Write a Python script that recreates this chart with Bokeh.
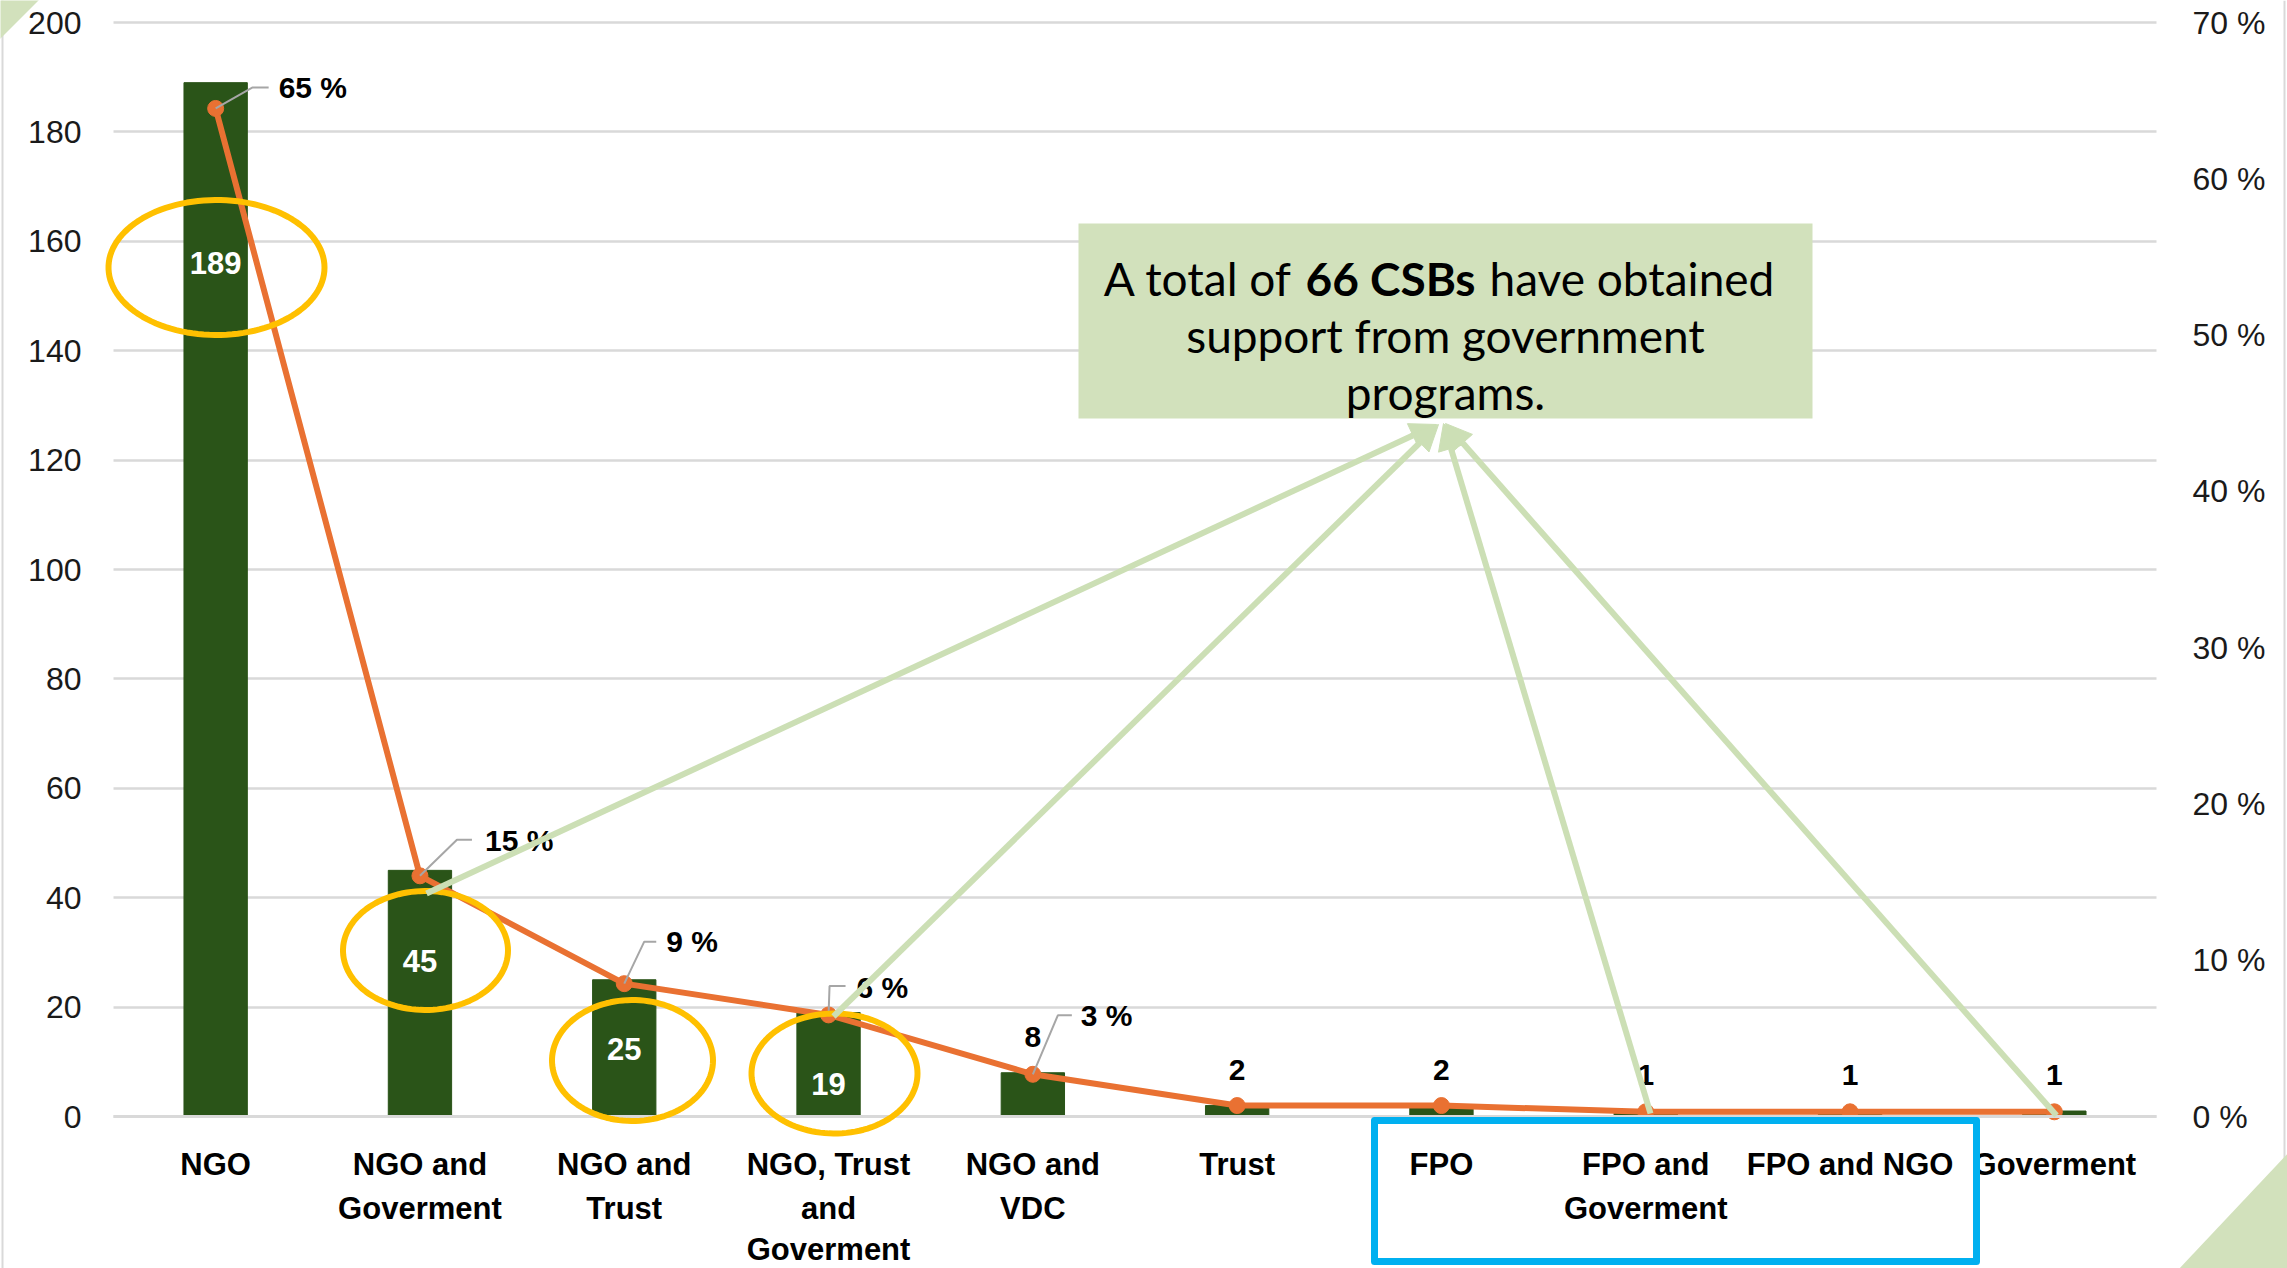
import numpy as np
from bokeh.plotting import figure
from bokeh.models import (Range1d, LinearAxis, FixedTicker, ColumnDataSource, Span,
                          Arrow, NormalHead, PolyAnnotation, BoxAnnotation, Label,
                          PrintfTickFormatter, CustomJSTickFormatter)
from bokeh.core.properties import value
from bokeh.embed import file_html
from bokeh.resources import INLINE

# ---------------- data ----------------
categories = ["NGO", "NGO and Goverment", "NGO and Trust", "NGO, Trust and Goverment",
              "NGO and VDC", "Trust", "FPO", "FPO and Goverment", "FPO and NGO", "Goverment"]
tick_labels = ["NGO", "NGO and\nGoverment", "NGO and\nTrust", "NGO, Trust\nand\nGoverment",
               "NGO and\nVDC", "Trust", "FPO", "FPO and\nGoverment", "FPO and NGO", "Goverment"]
counts = [189, 45, 25, 19, 8, 2, 2, 1, 1, 1]
share_pct = [64.5, 15.4, 8.5, 6.5, 2.7, 0.7, 0.7, 0.3, 0.3, 0.3]
share_labels = ["65 %", "15 %", "9 %", "6 %", "3 %"]
count_ticks = [0, 20, 40, 60, 80, 100, 120, 140, 160, 180, 200]
pct_ticks = [0, 10, 20, 30, 40, 50, 60, 70]
note_bold = "66 CSBs"

# ---------------- geometry (page pixels) ----------------
W, H = 2287, 1268
FL, FR, FT, FB = 113, 2156, 22, 1116     # plot area of the chart
NCAT = len(categories)
PX_CAT = (FR - FL) / NCAT
PX_CNT = (FB - FT) / 200.0
PX_PCT = (FB - FT) / 70.0


def dx(px):
    return (px - FL) / PX_CAT


def dy(py):
    return (FB - py) / PX_CNT


xpos = [i + 0.5 for i in range(NCAT)]
label_lines = [t.split("\n") for t in tick_labels]
line1 = [l[0] for l in label_lines]
line2 = [l[1] if len(l) > 1 else "" for l in label_lines]
line3 = [l[2] if len(l) > 2 else "" for l in label_lines]

FONT = "Liberation Sans"
BAR = "#2A5418"
ORANGE = "#E97132"
GRID = "#D9D9D9"
LGREEN = "#D2E1BC"
ARROW = "#CCDFB5"
YELLOW = "#FFC000"
BLUE = "#00B0F0"

p = figure(x_range=Range1d(dx(0), dx(W)), y_range=Range1d(dy(H), dy(0)),
           frame_width=W, frame_height=H, min_border=0,
           output_backend="svg", toolbar_location=None,
           background_fill_color="white", border_fill_color="white",
           outline_line_color=None)
p.extra_y_ranges = {"pct": Range1d(dy(H) * 0.35, dy(0) * 0.35)}

# ---- left axis ----
yt = FixedTicker(ticks=count_ticks)
ya = p.yaxis[0]
ya.ticker = yt
ya.fixed_location = 0
ya.bounds = (0, 200)
ya.axis_line_color = None
ya.major_tick_line_color = None
ya.minor_tick_line_color = None
ya.major_tick_out = 0
ya.major_label_text_font = FONT
ya.major_label_text_font_size = "32px"
ya.major_label_text_color = "#1a1a1a"
ya.major_label_standoff = 32

p.ygrid[0].ticker = yt
p.ygrid[0].grid_line_color = GRID
p.ygrid[0].grid_line_width = 2.5
if "cross_bounds" in p.ygrid[0].properties():
    p.ygrid[0].cross_bounds = (0, NCAT)
p.xgrid.grid_line_color = None

# ---- right axis ----
rax = LinearAxis(y_range_name="pct", ticker=FixedTicker(ticks=pct_ticks),
                 formatter=PrintfTickFormatter(format="%d %%"), fixed_location=NCAT,
                 bounds=(0, 70))
rax.axis_line_color = None
rax.major_tick_line_color = None
rax.minor_tick_line_color = None
rax.major_tick_out = 0
rax.major_label_text_font = FONT
rax.major_label_text_font_size = "32px"
rax.major_label_text_color = "#1a1a1a"
rax.major_label_standoff = 36
p.add_layout(rax, "right")

# ---- category axis (three stacked label rows) ----
def style_cat_axis(ax, labels, standoff, show_line):
    ax.ticker = FixedTicker(ticks=xpos)
    ax.formatter = CustomJSTickFormatter(args=dict(labels=labels),
                                         code="const i = Math.round(tick - 0.5); return labels[i] || '';")
    ax.fixed_location = 0
    ax.bounds = (0, NCAT)
    ax.axis_line_color = GRID if show_line else None
    ax.axis_line_width = 3
    ax.major_tick_line_color = None
    ax.minor_tick_line_color = None
    ax.major_tick_out = 0
    ax.major_tick_in = 0
    ax.major_label_text_font = FONT
    ax.major_label_text_font_style = "bold"
    ax.major_label_text_font_size = "31px"
    ax.major_label_text_color = "#000000"
    ax.major_label_standoff = standoff


style_cat_axis(p.xaxis[0], line1, 30, True)
ax2 = LinearAxis()
style_cat_axis(ax2, line2, 74, False)
p.add_layout(ax2, "below")
ax3 = LinearAxis()
style_cat_axis(ax3, line3, 115, False)
p.add_layout(ax3, "below")

# page edge lines
p.add_layout(Span(location=dx(2), dimension="height", line_color=GRID, line_width=2))
p.add_layout(Span(location=dx(2284), dimension="height", line_color=GRID, line_width=2))

# ---- bars and line ----
src = ColumnDataSource(dict(x=xpos, cat=categories, count=counts, pct=share_pct))
p.vbar(x="x", top="count", width=0.31, source=src, fill_color=BAR, line_color=BAR)
p.line(x="x", y="pct", y_range_name="pct", source=src, line_color=ORANGE, line_width=6)
p.scatter(x="x", y="pct", y_range_name="pct", source=src, size=16,
          fill_color=ORANGE, line_color=ORANGE)

# leader lines for percentage labels
corner_off = [(37, -21), (37, -36), (20, -42), (1, -29), (25, -59)]
end_off = [(53, -21), (52, -36), (32, -42), (17, -29), (39, -59)]
label_off = [(63, -21), (65, -35), (42, -42), (28, -27), (48, -59)]
lx, ly = [], []
for i, lab in enumerate(share_labels):
    x0, y0 = xpos[i], share_pct[i]
    (cx, cy), (ex, ey) = corner_off[i], end_off[i]
    lx.append([x0, x0 + cx / PX_CAT, x0 + ex / PX_CAT])
    ly.append([y0, y0 - cy / PX_PCT, y0 - ey / PX_PCT])
p.multi_line(xs=lx, ys=ly, y_range_name="pct", line_color="#A6A6A6", line_width=2)

n = len(share_labels)
pct_src = ColumnDataSource(dict(x=xpos[:n], pct=share_pct[:n], text=share_labels,
                                xo=[o[0] for o in label_off], yo=[o[1] for o in label_off]))
p.text(x="x", y="pct", text="text", y_range_name="pct", source=pct_src,
       x_offset="xo", y_offset="yo", text_align="left", text_baseline="middle",
       text_font=value(FONT), text_font_style="bold", text_font_size="30px", text_color="#000000")

# white counts inside the first four bars
inner_y = [dy(262), dy(960), dy(1048), dy(1083)]
in_src = ColumnDataSource(dict(x=xpos[:4], y=inner_y, text=[str(c) for c in counts[:4]]))
p.text(x="x", y="y", text="text", source=in_src, text_align="center", text_baseline="middle",
       text_font=value(FONT), text_font_style="bold", text_font_size="31px", text_color="white")

# counts above the small bars
top_src = ColumnDataSource(dict(x=xpos[4:], count=counts[4:], text=[str(c) for c in counts[4:]]))
p.text(x="x", y="count", text="text", source=top_src, y_offset=-36,
       text_align="center", text_baseline="middle",
       text_font=value(FONT), text_font_style="bold", text_font_size="30px", text_color="#000000")

# ---- yellow ellipses ----
t = np.linspace(0, 2 * np.pi, 120)
ellipses = [(216, 267, 216, 135), (425, 950, 165, 119), (632, 1060, 161, 121), (834, 1073, 166, 120)]
for cxp, cyp, wp, hp in ellipses:
    xs = list(dx(cxp) + (wp / 2 / PX_CAT) * np.cos(t))
    ys = list(dy(cyp) + (hp / 2 / PX_CNT) * np.sin(t))
    p.add_layout(PolyAnnotation(xs=xs, ys=ys, fill_alpha=0, line_color=YELLOW,
                                line_alpha=1, line_width=6))

# ---- blue box around the FPO categories ----
bx = [dx(1374), dx(1976), dx(1976), dx(1374)]
by = [dy(1120), dy(1120), dy(1261), dy(1261)]
p.add_layout(PolyAnnotation(xs=bx, ys=by, fill_alpha=0, line_color=BLUE, line_alpha=1,
                            line_width=7, line_join="round"))

# ---- call-out box ----
p.add_layout(BoxAnnotation(left=dx(1078), right=dx(1812), top=dy(223), bottom=dy(418),
                           fill_color=LGREEN, fill_alpha=1, line_color=None))

starts = [(426, 893), (833, 1016), (1650, 1113), (2056, 1115)]
ends = [(1436, 424), (1438, 424), (1443, 423), (1445, 423)]
for (sx, sy), (ex, ey) in zip(starts, ends):
    p.add_layout(Arrow(x_start=dx(sx), y_start=dy(sy), x_end=dx(ex), y_end=dy(ey),
                       line_color=ARROW, line_width=6,
                       end=NormalHead(size=26, fill_color=ARROW, line_color=ARROW)))

NOTE_FONT = "Lato"
NOTE_SIZE = "46px"
note_parts = [
    (1292, 278, "A total of", "right", "normal"),
    (1390, 278, note_bold, "center", "bold"),
    (1489, 278, "have obtained", "left", "normal"),
    (1445, 335, "support from government", "center", "normal"),
    (1445, 392, "programs.", "center", "normal"),
]
for px, py, txt, align, style in note_parts:
    p.add_layout(Label(x=dx(px), y=dy(py), text=txt, text_align=align,
                       text_baseline="alphabetic", text_font=NOTE_FONT,
                       text_font_size=NOTE_SIZE, text_font_style=style, text_color="#000000"))

# ---- decorative corner triangles ----
p.add_layout(PolyAnnotation(xs=[dx(-2), dx(40), dx(-2)], ys=[dy(-2), dy(-2), dy(40)],
                            fill_color=LGREEN, fill_alpha=1, line_color=None))
p.add_layout(PolyAnnotation(xs=[dx(2177), dx(2290), dx(2290)], ys=[dy(1270), dy(1150), dy(1270)],
                            fill_color=LGREEN, fill_alpha=1, line_color=None))

open("out.html", "w").write(file_html(p, INLINE))
